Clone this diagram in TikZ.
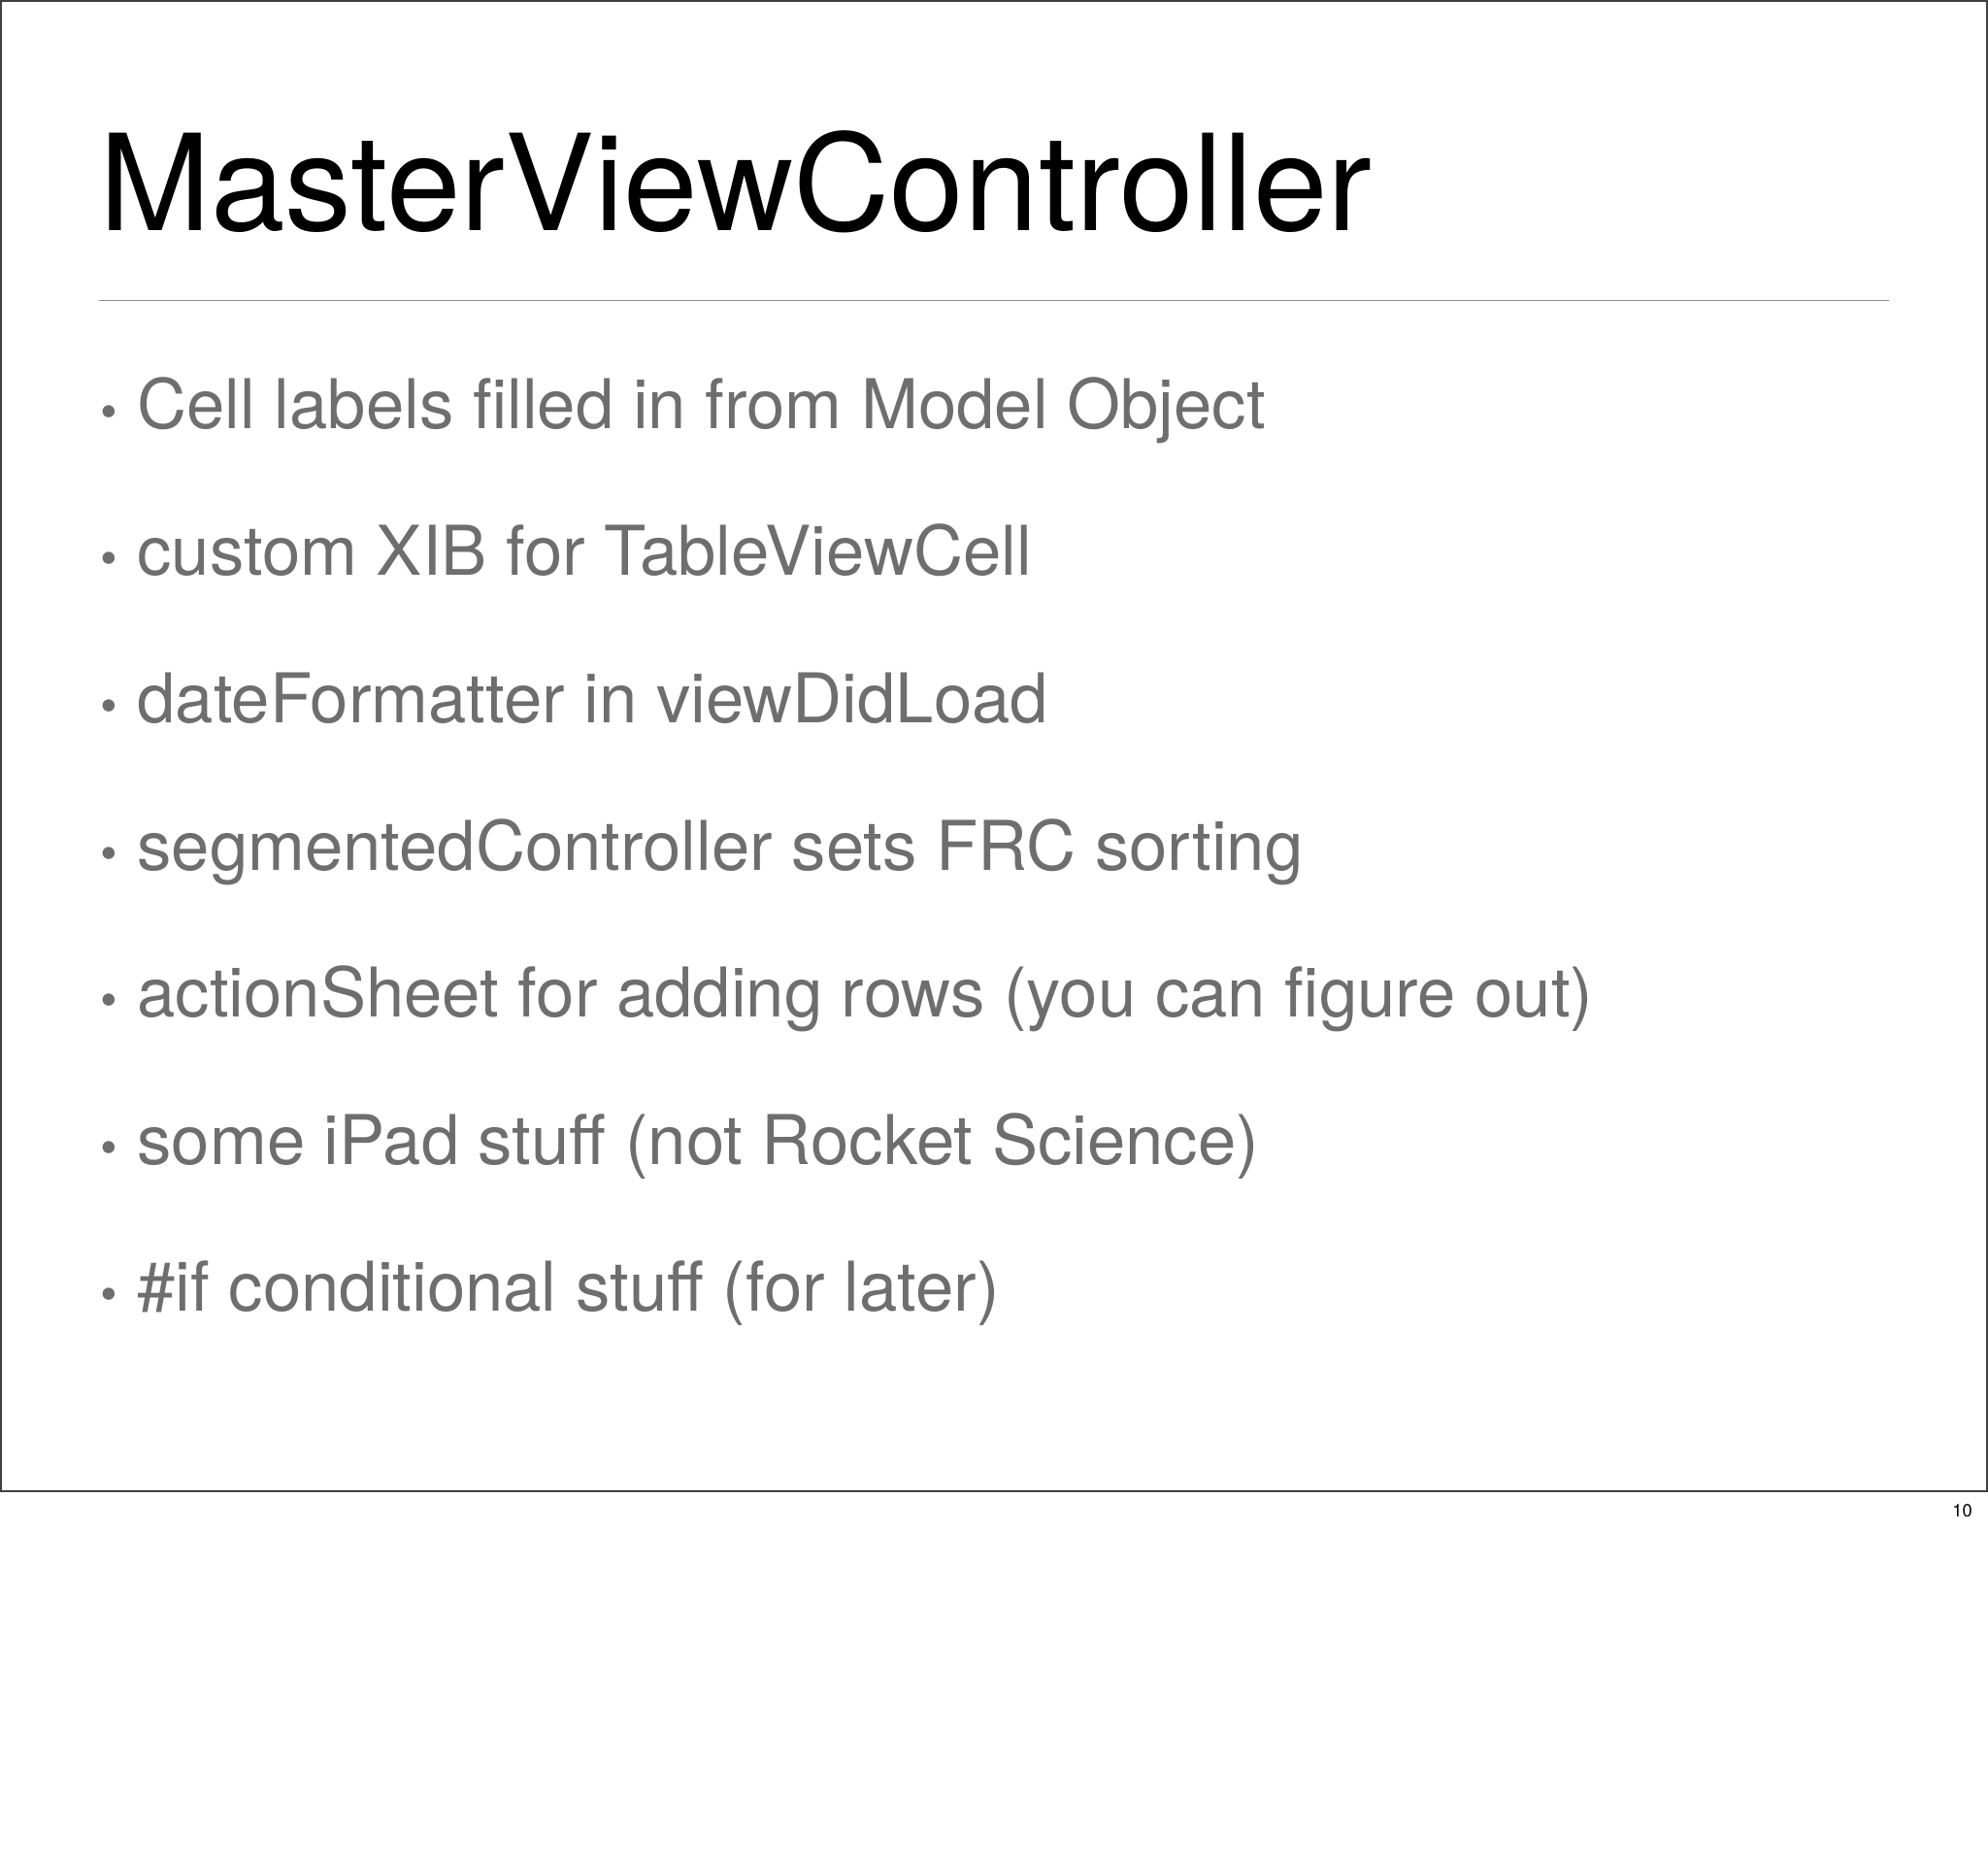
\documentclass[tikz,border=0pt]{standalone}
\usepackage{fontspec}
\setmainfont{TeX Gyre Heros}
\definecolor{bodygray}{HTML}{6E6E6E}
\definecolor{rulegray}{HTML}{8C8C8C}
\tikzset{
  titletext/.style={anchor=base west, inner sep=0pt, font=\fontsize{60}{66}\selectfont},
  bullettext/.style={anchor=base west, inner sep=0pt, text=bodygray, font=\fontsize{30.8}{36}\selectfont},
}
\begin{document}
\begin{tikzpicture}[x=0.02cm,y=-0.02cm]
  \useasboundingbox (0,0) rectangle (1568,1470);
  \fill[white] (0,0) rectangle (1568,1470);
  \draw[black!75, line width=0.8pt] (0.5,0.5) rectangle (1567.5,1176);
  \node[titletext] (title) at (78,182) {MasterViewController};
  \draw[rulegray, line width=0.8pt] (78,237) -- (1490,237);
  \foreach \txt [count=\i] in {
    Cell labels filled in from Model Object,
    custom XIB for TableViewCell,
    dateFormatter in viewDidLoad,
    segmentedController sets FRC sorting,
    actionSheet for adding rows (you can figure out),
    some iPad stuff (not Rocket Science),
    \#if conditional stuff (for later)}
  {
    \node[bullettext] (item\i) at (108,222+116*\i) {\txt};
    \node[bullettext, anchor=base, font=\fontsize{22}{24}\selectfont] (dot\i) at (86,222+116*\i) {\textbullet};
  }
  \node[anchor=base east, inner sep=0pt, font=\fontsize{8}{9}\selectfont] (page) at (1556,1196) {10};
\end{tikzpicture}
\end{document}
